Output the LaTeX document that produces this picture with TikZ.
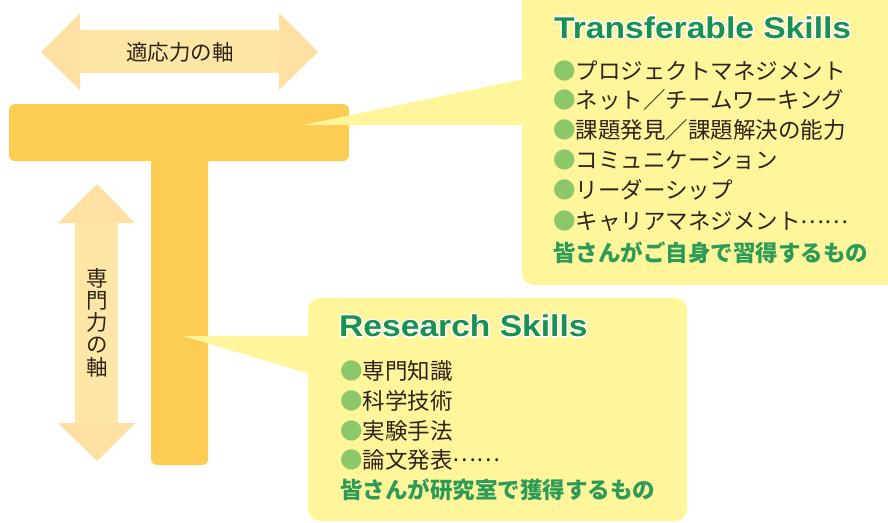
\documentclass[tikz,border=0pt]{standalone}
\usepackage{fontspec}
\newfontfamily\jp{Noto Sans CJK JP}
\newfontfamily\ttl{Liberation Sans}[FakeStretch=1.12]
\definecolor{tbar}{RGB}{253,204,82}
\definecolor{shaft}{RGB}{254,231,166}
\definecolor{ahead}{RGB}{253,224,162}
\definecolor{callout}{RGB}{255,245,154}
\definecolor{ttlgreen}{RGB}{25,145,80}
\definecolor{txtgreen}{RGB}{45,155,88}
\definecolor{bullet}{RGB}{140,200,105}
\definecolor{ink}{RGB}{45,35,25}
\tikzset{
  itemtxt/.style={anchor=west, inner sep=0pt, text=ink, text height=18.7pt, text depth=2.2pt,
    font=\jp\fontsize{22.5}{27}\selectfont},
  greentxt/.style={itemtxt, text=txtgreen, font=\jp\bfseries\fontsize{22.5}{27}\selectfont},
  titletxt/.style={anchor=base west, inner sep=0pt, text=ttlgreen, font=\ttl\bfseries\fontsize{30}{36}\selectfont},
  titleglow/.style={titletxt, text=white},
  axistxt/.style={inner sep=0pt, text=ink, font=\jp\fontsize{21.5}{22.2}\selectfont},
}
\newcommand{\bul}{{\color{bullet}●}}
\newcommand{\jpdots}{\raisebox{6.5pt}{……}}
\begin{document}
\begin{tikzpicture}[x=1pt,y=-1pt]
\useasboundingbox (0,0) rectangle (888,522);
\clip (0,0) rectangle (888,522);
% horizontal axis arrow
\fill[shaft] (80,30) rectangle (279,73);
\fill[ahead] (41,52) -- (80,13) -- (80,90) -- cycle;
\fill[ahead] (318,52) -- (279,13) -- (279,90) -- cycle;
\node[axistxt] (hlabel) at (180,52) {適応力の軸};
% vertical axis arrow
\fill[shaft] (75,223) rectangle (118,423);
\fill[ahead] (97,184) -- (58,223) -- (135,223) -- cycle;
\fill[ahead] (97,461) -- (58,423) -- (135,423) -- cycle;
\node[axistxt, align=center] (vlabel) at (97,322.5) {専\\門\\力\\の\\軸};
% T bar
\fill[tbar, rounded corners=6pt] (151,140) rectangle (208,465);
\fill[tbar, rounded corners=6pt] (9,104) rectangle (349,161);
% callout 1
\fill[callout, rounded corners=12pt] (522,-20) rectangle (910,285);
\fill[callout] (303,125) -- (524,79) -- (524,125) -- cycle;
% callout 2
\fill[callout, rounded corners=12pt] (308,298) rectangle (687,521);
\fill[callout] (183,336) -- (310,336) -- (310,374) -- cycle;
% titles with white outline
\foreach \dx/\dy in {-1.5/0,1.5/0,0/-1.5,0/1.5,-1.1/-1.1,1.1/-1.1,-1.1/1.1,1.1/1.1}{
  \node[titleglow] at (554+\dx,38.3+\dy) {Transferable Skills};
  \node[titleglow] at (339+\dx,336.7+\dy) {Research Skills};
}
\node[titletxt] (ttitle) at (554,38.3) {Transferable Skills};
\node[titletxt] (rtitle) at (339,336.7) {Research Skills};
% transferable items
\node[itemtxt] (t1) at (553,71.7) {\bul プロジェクトマネジメント};
\node[itemtxt] (t2) at (553,100.5) {\bul ネット／チームワーキング};
\node[itemtxt] (t3) at (553,130) {\bul 課題発見／課題解決の能力};
\node[itemtxt] (t4) at (553,160) {\bul コミュニケーション};
\node[itemtxt] (t5) at (553,190) {\bul リーダーシップ};
\node[itemtxt] (t6) at (553,221.7) {\bul キャリアマネジメント\jpdots};
\node[greentxt] (t7) at (553,253.3) {皆さんがご自身で習得するもの};
% research items
\node[itemtxt] (r1) at (340,371.7) {\bul 専門知識};
\node[itemtxt] (r2) at (340,401.7) {\bul 科学技術};
\node[itemtxt] (r3) at (340,431.7) {\bul 実験手法};
\node[itemtxt] (r4) at (340,460) {\bul 論文発表\jpdots};
\node[greentxt] (r5) at (340,490) {皆さんが研究室で獲得するもの};
\end{tikzpicture}
\end{document}
